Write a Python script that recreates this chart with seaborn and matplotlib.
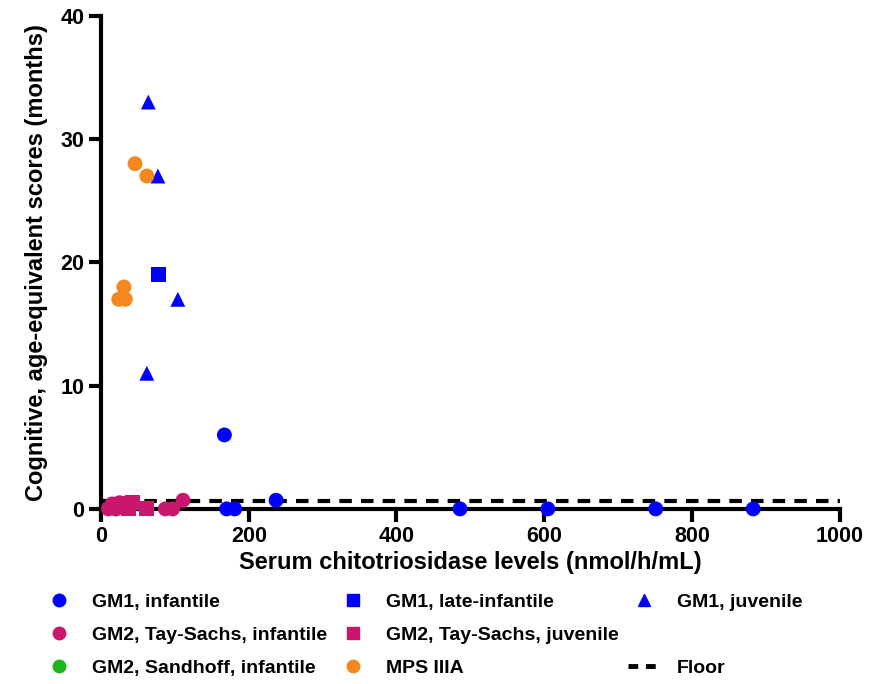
import numpy as np
import pandas as pd
import matplotlib
matplotlib.use("Agg")
import matplotlib.pyplot as plt
from matplotlib.lines import Line2D
import seaborn as sns

# values
gm1_inf_x = [167, 170, 181, 237, 486, 605, 751, 883]
gm1_inf_y = [6, 0, 0, 0.7, 0, 0, 0, 0]
gm1_late_x = [78]
gm1_late_y = [19]
gm1_juv_x = [64, 77, 104, 62]
gm1_juv_y = [33, 27, 17, 11]
ts_inf_x = [10, 15, 20, 25, 30, 35, 87, 97, 111]
ts_inf_y = [0, 0.4, 0, 0.5, 0.2, 0.5, 0, 0, 0.7]
ts_juv_x = [30, 37, 42, 61]
ts_juv_y = [0.3, 0, 0.5, 0]
sandhoff_x = [20]
sandhoff_y = [0]
mps_x = [46, 62, 31, 24, 33]
mps_y = [28, 27, 18, 17, 17]
floor_value = 0.6

groups = ["GM1, infantile", "GM1, late-infantile", "GM1, juvenile",
          "GM2, Tay-Sachs, infantile", "GM2, Tay-Sachs, juvenile",
          "GM2, Sandhoff, infantile", "MPS IIIA"]
colors = ["#0000FF", "#0000FF", "#0000FF", "#C8176D", "#C8176D", "#1DB51D", "#F5871F"]
shapes = ["o", "s", "^", "o", "s", "o", "o"]

xs = [gm1_inf_x, gm1_late_x, gm1_juv_x, ts_inf_x, ts_juv_x, sandhoff_x, mps_x]
ys = [gm1_inf_y, gm1_late_y, gm1_juv_y, ts_inf_y, ts_juv_y, sandhoff_y, mps_y]

frames = []
for g, x, y in zip(groups, xs, ys):
    frames.append(pd.DataFrame({"x": x, "y": y, "group": g}))
df = pd.concat(frames, ignore_index=True)

sns.set_style("ticks")
plt.rcParams["font.family"] = ["Liberation Sans", "DejaVu Sans"]
plt.rcParams["font.weight"] = "bold"
for k in ["text.color", "axes.labelcolor", "xtick.color", "ytick.color", "axes.edgecolor"]:
    plt.rcParams[k] = "black"

fig = plt.figure(figsize=(8.71, 6.84), dpi=100)
ax = fig.add_axes([0.116, 0.256, 0.848, 0.721])

# sandhoff first so it sits under the Tay-Sachs cluster
order = ["GM2, Sandhoff, infantile"] + [g for g in groups if g != "GM2, Sandhoff, infantile"]
for g in order:
    i = groups.index(g)
    sub = df[df["group"] == g]
    sns.scatterplot(data=sub, x="x", y="y", color=colors[i], marker=shapes[i],
                    s=115, edgecolor="none", ax=ax, clip_on=False, zorder=3)

ax.axhline(floor_value, color="black", lw=3, ls=(0, (3, 2.2)), zorder=2)

ax.set_xlim(0, 1000)
ax.set_ylim(0, 40)
ax.set_xticks(np.arange(0, 1001, 200))
ax.set_yticks(np.arange(0, 41, 10))
ax.set_xlabel("Serum chitotriosidase levels (nmol/h/mL)", fontsize=17, fontweight="bold", labelpad=3)
ax.set_ylabel("Cognitive, age-equivalent scores (months)", fontsize=17, fontweight="bold", labelpad=9)
for lab in ax.get_xticklabels() + ax.get_yticklabels():
    lab.set_fontweight("bold")
    lab.set_fontsize(15.5)
ax.tick_params(width=3, length=9, direction="out", pad=3)
for sp in ["left", "bottom"]:
    ax.spines[sp].set_linewidth(3)
sns.despine(ax=ax)

def mk(i):
    return Line2D([], [], ls="none", marker=shapes[i], color=colors[i], markersize=9)

blank = Line2D([], [], ls="none")
floor_h = Line2D([], [], color="black", lw=3.5, ls=(0, (2, 1.6)))
handles = [mk(0), mk(3), mk(5), mk(1), mk(4), mk(6), mk(2), blank, floor_h]
labels = [groups[0], groups[3], groups[5], groups[1], groups[4], groups[6], groups[2], "", "Floor"]
fig.legend(handles, labels, ncol=3, loc="upper left", bbox_to_anchor=(0.03, 0.158),
           frameon=False, handlelength=1.6, handletextpad=0.9, columnspacing=0.5,
           labelspacing=0.78, prop={"weight": "bold", "size": 14})

fig.savefig("out.png", dpi=100)
